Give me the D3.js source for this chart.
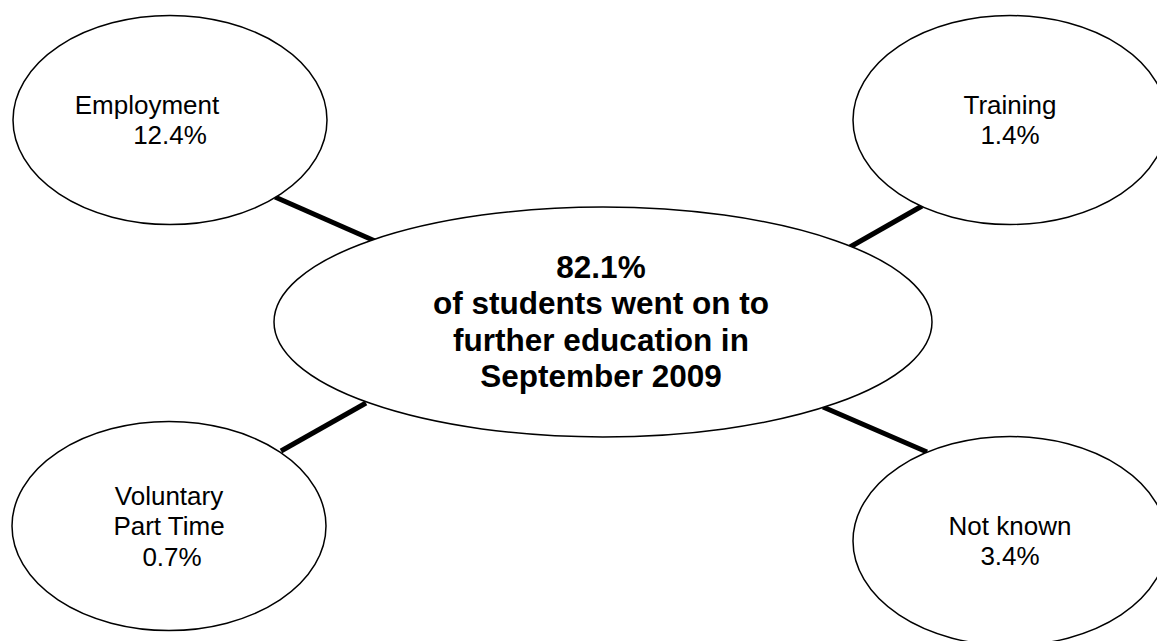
<!DOCTYPE html>
<html>
<head>
<meta charset="utf-8">
<script src="https://cdn.jsdelivr.net/npm/d3@7"></script>
<style>
  body { margin: 0; background: #fff; }
  svg { display: block; }
</style>
</head>
<body>
<div id="chart"></div>
<script>
// data
var categories = ["Employment", "Training", "Voluntary Part Time", "Not known"];
var categoryLines = [["Employment"], ["Training"], ["Voluntary", "Part Time"], ["Not known"]];
var values = [12.4, 1.4, 0.7, 3.4];
var mainValue = 82.1;
var mainText = ["of students went on to", "further education in", "September 2009"];

// layout (positions of the bubbles and connectors)
var satPos = [[170, 120], [1010, 120], [169, 526], [1010, 541]];
var satDx = [[-23, 0], [0, 0], [0, 0, 3], [0, 0]];
var connectors = [
    [[275, 197], [375, 241]],
    [[922, 206], [850, 247]],
    [[281, 451], [366, 403]],
    [[823, 407], [927, 452]]
];

document.addEventListener('DOMContentLoaded', function () {
    var width = 1157, height = 641;

    var svg = d3.select("#chart")
        .append("svg")
        .attr("width", width)
        .attr("height", height);

    var nodes = categories.map(function (c, i) {
        return {
            name: c,
            lines: categoryLines[i].concat([values[i].toFixed(1) + "%"]),
            x: satPos[i][0],
            y: satPos[i][1],
            dx: satDx[i]
        };
    });

    // connectors
    svg.selectAll(".link")
        .data(connectors)
        .enter()
        .append("line")
        .attr("class", "link")
        .attr("x1", function (d) { return d[0][0]; })
        .attr("y1", function (d) { return d[0][1]; })
        .attr("x2", function (d) { return d[1][0]; })
        .attr("y2", function (d) { return d[1][1]; })
        .attr("stroke", "#000")
        .attr("stroke-width", 5);

    // centre bubble
    var cx = 603, cy = 322;
    svg.append("ellipse")
        .attr("cx", cx)
        .attr("cy", cy)
        .attr("rx", 329)
        .attr("ry", 115)
        .attr("fill", "#fff")
        .attr("stroke", "#000")
        .attr("stroke-width", 1.5);

    var mainLines = [mainValue.toFixed(1) + "%"].concat(mainText);
    svg.append("text")
        .attr("text-anchor", "middle")
        .style("font-family", "Arial, 'Liberation Sans', sans-serif")
        .style("font-size", "31.5px")
        .style("font-weight", "bold")
        .selectAll("tspan")
        .data(mainLines)
        .enter()
        .append("tspan")
        .attr("x", cx - 2)
        .attr("y", function (d, i) { return 277.5 + i * 36.6; })
        .text(function (d) { return d; });

    // satellite bubbles
    var sat = svg.selectAll(".sat")
        .data(nodes)
        .enter()
        .append("g")
        .attr("class", "sat")
        .attr("transform", function (d) { return "translate(" + d.x + "," + d.y + ")"; });

    sat.append("ellipse")
        .attr("rx", 157)
        .attr("ry", 104.5)
        .attr("fill", "#fff")
        .attr("stroke", "#000")
        .attr("stroke-width", 1.5);

    sat.append("text")
        .attr("text-anchor", "middle")
        .style("font-family", "Arial, 'Liberation Sans', sans-serif")
        .style("font-size", "26px")
        .style("fill", "#000")
        .each(function (d) {
            var n = d.lines.length;
            var y0 = -((n - 1) * 30.5) / 2 + 9;
            d3.select(this).selectAll("tspan")
                .data(d.lines)
                .enter()
                .append("tspan")
                .attr("x", function (t, i) { return d.dx[i] || 0; })
                .attr("y", function (t, i) { return y0 + i * 30.5; })
                .text(function (t) { return t; });
        });
});
</script>
</body>
</html>
